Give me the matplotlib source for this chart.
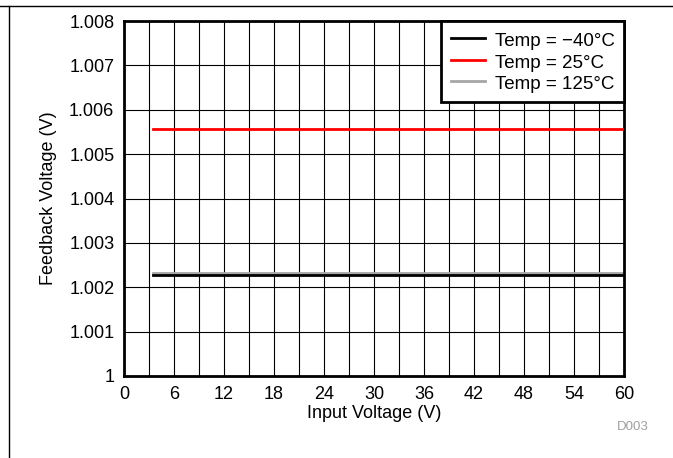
import matplotlib
matplotlib.use("Agg")
import numpy as np
from matplotlib import pyplot as plt
from matplotlib.lines import Line2D

plt.rcParams['font.family'] = ['Liberation Sans', 'DejaVu Sans']

vin = [3.5, 10, 20, 30, 40, 50, 60]
vfb_m40 = [1.00228, 1.00228, 1.00228, 1.00228, 1.00228, 1.00228, 1.00228]
vfb_25 = [1.00557, 1.00557, 1.00557, 1.00557, 1.00557, 1.00557, 1.00557]
vfb_125 = [1.00233, 1.00233, 1.00233, 1.00233, 1.00233, 1.00233, 1.00233]
labels = ['Temp = \u221240\u00b0C', 'Temp = 25\u00b0C', 'Temp = 125\u00b0C']

fig = plt.figure(figsize=(6.73, 4.58), dpi=100)
ax = fig.add_axes([124 / 673, 82 / 458, 500 / 673, 355 / 458])

ax.plot(vin, vfb_m40, color='black', lw=2, label=labels[0], zorder=3)
ax.plot(vin, vfb_25, color='#ff0000', lw=2, label=labels[1], zorder=3)
ax.plot(vin, vfb_125, color='#a6a6a6', lw=2, label=labels[2], zorder=2)

ax.set_xlim(0, 60)
ax.set_ylim(1.0, 1.008)
ax.set_xticks(np.arange(0, 61, 6))
ax.set_xticks(np.arange(0, 61, 3), minor=True)
ax.set_yticks(np.arange(1.0, 1.0081, 0.001))
ax.set_yticklabels(['1', '1.001', '1.002', '1.003', '1.004', '1.005', '1.006', '1.007', '1.008'])
ax.grid(True, which='both', color='black', lw=0.8)
ax.tick_params(which='both', length=0, labelsize=13, pad=7)
for s in ax.spines.values():
    s.set_linewidth(2)

ax.set_xlabel('Input Voltage (V)', fontsize=13, labelpad=2)
ax.set_ylabel('Feedback Voltage (V)', fontsize=13, labelpad=9)

leg = ax.legend(loc='upper right', fontsize=13.5, frameon=True, fancybox=False,
                borderaxespad=0, handlelength=1.85, handletextpad=0.5,
                handleheight=1.15, labelspacing=0.1, borderpad=0.5,
                framealpha=1)
leg.get_frame().set_edgecolor('black')
leg.get_frame().set_linewidth(2)

fig.text(633 / 673, 1 - 427 / 458, 'D003', color='#a0a0a0', fontsize=9.5,
         ha='center', va='center')
fig.add_artist(Line2D([0, 1], [1 - 6 / 458, 1 - 6 / 458], color='black', lw=1))
fig.add_artist(Line2D([8.5 / 673, 8.5 / 673], [0, 1 - 6 / 458], color='black', lw=1))

fig.savefig('out.png', dpi=100)
